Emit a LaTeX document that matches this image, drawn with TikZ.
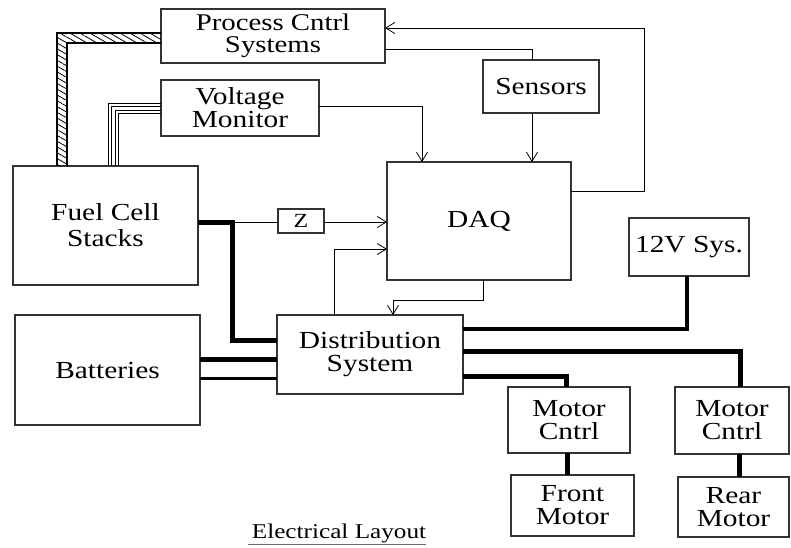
\documentclass[tikz,border=0pt]{standalone}
\usepackage{fontspec}
\setmainfont{Liberation Serif}[FakeStretch=1.2]
\usetikzlibrary{arrows.meta,patterns.meta,calc}
\begin{document}
\begin{tikzpicture}[x=1pt,y=-1pt,
  box/.style={draw=black!80, line width=1.1pt, inner sep=0pt, outer sep=0pt, align=center,
    font=\fontsize{24.5}{23}\selectfont},
  sig/.style={line width=0.9pt},
  arr/.style={sig, -{Straight Barb[length=9pt,width=11pt,line width=0.8pt]}},
  power/.style={line width=5pt},
  medpower/.style={line width=3.5pt}
]
\useasboundingbox (0,0) rectangle (791,547);

% boxes
\node[box, minimum width=224pt, minimum height=54pt, font=\fontsize{24}{22.5}\selectfont] (proc) at (273,36) {Process Cntrl\\Systems};
\node[box, minimum width=158pt, minimum height=56pt] (volt) at (240,108) {Voltage\\Monitor};
\node[box, minimum width=116pt, minimum height=53pt] (sens) at (541,86.5) {Sensors};
\node[box, minimum width=185pt, minimum height=119pt, font=\fontsize{24.5}{26}\selectfont] (fuel) at (105.5,225.5) {Fuel Cell\\Stacks};
\node[box, minimum width=184pt, minimum height=118pt] (daq) at (479,221) {DAQ};
\node[box, minimum width=46pt, minimum height=24pt, font=\fontsize{20}{20}\selectfont] (z) at (301,221) {Z};
\node[box, minimum width=120pt, minimum height=58pt] (v12) at (689,247) {12V Sys.};
\node[box, minimum width=186pt, minimum height=79pt] (dist) at (370,354.5) {Distribution\\System};
\node[box, minimum width=185pt, minimum height=110pt] (batt) at (107.5,370) {Batteries};
\node[box, minimum width=122pt, minimum height=66pt, font=\fontsize{24.5}{23}\selectfont] (mcf) at (569,420) {Motor\\Cntrl};
\node[box, minimum width=123pt, minimum height=61pt] (fm) at (572.5,505.5) {Front\\Motor};
\node[box, minimum width=114pt, minimum height=67pt, font=\fontsize{24.5}{23}\selectfont] (mcr) at (732,420.5) {Motor\\Cntrl};
\node[box, minimum width=111pt, minimum height=60pt] (rm) at (733.5,507) {Rear\\Motor};

% hatched cable fuel cell -> process control
\fill[pattern={Lines[angle=-30,distance=5pt,line width=0.8pt]}]
  (57,0 |- fuel.north) -- (57,33) -- (proc.west |- 0,33) -- (proc.west |- 0,43) -- (67,43) -- (67,0 |- fuel.north) -- cycle;
\draw[line width=2pt] (57,0 |- fuel.north) -- (57,33) -- (proc.west |- 0,33);
\draw[line width=1.5pt] (67,0 |- fuel.north) -- (67,43) -- (proc.west |- 0,43);

% multi-wire cable fuel cell -> voltage monitor
\foreach \i in {0,1,2,3}{
  \draw[line width=0.9pt] (108+3.5*\i,0 |- fuel.north) -- (108+3.5*\i,103+3.5*\i) -- (volt.west |- 0,103+3.5*\i);
}

% signal lines
\draw[arr] (volt.east |- 0,106) -- (422,106) -- (422,0 |- daq.north);
\draw[sig] (proc.east |- 0,49) -- (532,49) -- (532,0 |- sens.north);
\draw[arr] (532,0 |- sens.south) -- (532,0 |- daq.north);
\draw[arr] (daq.east |- 0,191) -- (644,191) -- (644,28) -- (proc.east |- 0,28);
\coordinate (j) at (232,222);
\draw[sig] (j) -- (z.west |- j);
\draw[arr] (z.east |- j) -- (daq.west |- j);
\draw[arr] (334,0 |- dist.north) -- (334,249) -- (daq.west |- 0,249);
\draw[arr] (483,0 |- daq.south) -- (483,300) -- (393,300) -- (393,0 |- dist.north);

% power lines
\draw[power] (fuel.east |- j) -- (j) -- (232,340) -- (dist.west |- 0,340);
\draw[power] (batt.east |- 0,359) -- (dist.west |- 0,359);
\draw[line width=3pt] (batt.east |- 0,378) -- (dist.west |- 0,378);
\draw[medpower] (dist.east |- 0,329) -- (687,329) -- (687,0 |- v12.south);
\draw[power] (dist.east |- 0,351) -- (740,351) -- (740,0 |- mcr.north);
\draw[power] (dist.east |- 0,376) -- (566,376) -- (566,0 |- mcf.north);
\draw[power] (567,0 |- mcf.south) -- (567,0 |- fm.north);
\draw[power] (739,0 |- mcr.south) -- (739,0 |- rm.north);

% caption
\node[inner sep=0pt, anchor=base, font=\fontsize{21}{21}\selectfont] (cap) at (339,538) {Electrical Layout};
\draw[line width=0.9pt, black!60] ([yshift=-6pt,xshift=-4pt]cap.base west) -- ([yshift=-6pt]cap.base east);
\end{tikzpicture}
\end{document}
